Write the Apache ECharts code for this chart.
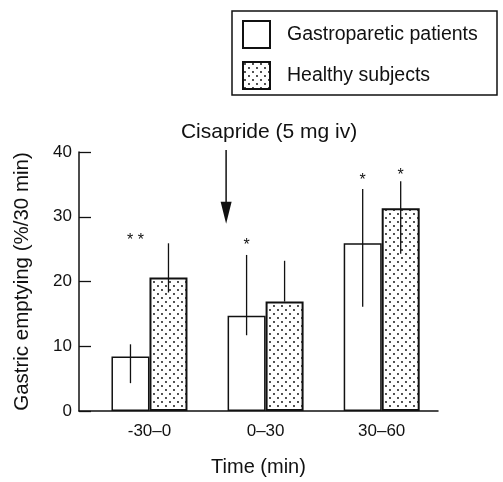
<!DOCTYPE html>
<html><head><meta charset="utf-8">
<script src="https://cdn.jsdelivr.net/npm/echarts@6/dist/echarts.min.js"></script>
<style>html,body{margin:0;padding:0;background:#fff}#c{width:503px;height:482px}</style>
</head><body><div id="c"></div>
<script>
// ---- data ----
const categories = ['-30\u20130', '0\u201330', '30\u201360'];
const seriesNames = ['Gastroparetic patients', 'Healthy subjects'];
const gastroValues = [8.4, 14.7, 25.9];
const healthyValues = [20.6, 16.9, 31.3];
const gastroErrLow = [4.3, 11.7, 16.1];
const gastroErrHigh = [10.3, 24.1, 34.3];
const healthyErrLow = [18.3, 16.9, 24.3];
const healthyErrHigh = [25.9, 23.2, 35.5];
const yTicks = [0, 10, 20, 30, 40];
const sigCategory = [0, 1, 2, 2];
const sigSeries = [0, 0, 0, 1];
const sigY = [27.0, 26.2, 36.2, 37.0];
const sigText = ['* *', '*', '*', '*'];
const arrowX = [0.66];
const arrowTop = [40.3];
const arrowBottom = [28.9];
const annotText = ['Cisapride (5 mg iv)'];
const annotX = [1.03];
const annotY = [43.0];

// ---- style ----
const FONT = "'Liberation Sans', Arial, sans-serif";
const INK = '#111';
const HALF = 19;

const pc = document.createElement('canvas');
pc.width = 8; pc.height = 8;
const g = pc.getContext('2d');
g.fillStyle = '#fff'; g.fillRect(0, 0, 8, 8);
g.fillStyle = '#000';
[[2, 2], [6, 6]].forEach(([x, y]) => { g.beginPath(); g.arc(x, y, 0.9, 0, Math.PI * 2); g.fill(); });

const errData = [];
gastroValues.forEach((v, i) => errData.push([i, gastroErrLow[i], gastroErrHigh[i], 0]));
healthyValues.forEach((v, i) => errData.push([i, healthyErrLow[i], healthyErrHigh[i], 1]));
const sigData = sigY.map((y, i) => [sigCategory[i], y, sigSeries[i], i]);
const arrowData = arrowX.map((x, i) => [x, arrowTop[i], arrowBottom[i], annotX[i], annotY[i], i]);

const chart = echarts.init(document.getElementById('c'), null, {renderer: 'canvas'});
chart.setOption({
  animation: false,
  textStyle: {fontFamily: FONT, color: INK},
  grid: {left: 79, right: 65, top: 152, bottom: 67},
  legend: {
    orient: 'vertical', left: 237, top: 15, itemWidth: 27, itemHeight: 27, itemGap: 12,
    icon: 'rect', selectedMode: false, data: seriesNames,
    textStyle: {fontSize: 19.5, color: INK, fontFamily: FONT, padding: [0, 0, 0, 12]}
  },
  graphic: [{type: 'rect', shape: {x: 232, y: 11, width: 265, height: 84},
    style: {fill: 'none', stroke: INK, lineWidth: 1.5}, z: 1}],
  xAxis: {
    type: 'value', min: -0.607, max: 2.485,
    axisLine: {show: true, onZero: false, lineStyle: {color: INK, width: 1.5}},
    axisTick: {show: false}, splitLine: {show: false},
    axisLabel: {customValues: [0, 1, 2], formatter: v => categories[Math.round(v)],
      fontSize: 17, color: INK, margin: 12, fontFamily: FONT},
    name: 'Time (min)', nameLocation: 'middle', nameGap: 46,
    nameTextStyle: {fontSize: 20, color: INK, fontFamily: FONT}
  },
  yAxis: {
    type: 'value', min: 0, max: 40, interval: 10,
    axisLine: {show: true, onZero: false, lineStyle: {color: INK, width: 1.5}},
    axisTick: {show: true, inside: true, length: 12, lineStyle: {color: INK, width: 1.3}},
    splitLine: {show: false},
    axisLabel: {fontSize: 17, color: INK, margin: 7, fontFamily: FONT,
      formatter: v => (yTicks.indexOf(v) >= 0 ? String(v) : '')},
    name: 'Gastric emptying (%/30 min)', nameLocation: 'middle', nameGap: 46,
    nameTextStyle: {fontSize: 20.5, color: INK, fontFamily: FONT}
  },
  series: [
    {name: seriesNames[0], type: 'bar', data: gastroValues.map((v, i) => [i, v]),
      barWidth: 38, barGap: '0%',
      itemStyle: {color: '#fff', borderColor: INK, borderWidth: 1.5}},
    {name: seriesNames[1], type: 'bar', data: healthyValues.map((v, i) => [i, v]),
      barWidth: 38, barGap: '0%',
      itemStyle: {color: {image: pc, repeat: 'repeat'}, borderColor: INK, borderWidth: 2}},
    {type: 'custom', data: errData, encode: {x: 0, y: [1, 2]}, z: 10, silent: true,
      renderItem: (params, api) => {
        const c = api.value(0), s = api.value(3);
        const p1 = api.coord([c, api.value(1)]), p2 = api.coord([c, api.value(2)]);
        const x = p1[0] + (s === 0 ? -HALF : HALF);
        return {type: 'line', shape: {x1: x, y1: p1[1], x2: x, y2: p2[1]},
          style: {stroke: INK, lineWidth: 1.3}};
      }},
    {type: 'custom', data: sigData, encode: {x: 0, y: 1}, z: 11, silent: true,
      renderItem: (params, api) => {
        const c = api.value(0), s = api.value(2), idx = api.value(3);
        const p = api.coord([c, api.value(1)]);
        const x = p[0] + (s === 0 ? -HALF : HALF);
        return {type: 'text', style: {text: sigText[idx], x: x + (sigText[idx].length > 1 ? 5 : 0), y: p[1] + 4,
          align: 'center', verticalAlign: 'middle', fontSize: 16, fill: INK, fontFamily: FONT}};
      }},
    {type: 'custom', data: arrowData, encode: {x: 0, y: [1, 2]}, z: 12, silent: true, clip: false,
      renderItem: (params, api) => {
        const pt = api.coord([api.value(0), api.value(1)]);
        const pb = api.coord([api.value(0), api.value(2)]);
        const pa = api.coord([api.value(3), api.value(4)]);
        const head = 22, hw = 5.5;
        return {type: 'group', children: [
          {type: 'line', shape: {x1: pt[0], y1: pt[1], x2: pt[0], y2: pb[1] - head + 2},
            style: {stroke: INK, lineWidth: 1.5}},
          {type: 'polygon', shape: {points: [[pb[0] - hw, pb[1] - head], [pb[0] + hw, pb[1] - head], [pb[0], pb[1]]]},
            style: {fill: INK}},
          {type: 'text', style: {text: annotText[api.value(5)], x: pa[0], y: pa[1],
            align: 'center', verticalAlign: 'middle', fontSize: 21, fill: INK, fontFamily: FONT}}
        ]};
      }}
  ]
});
</script></body></html>
